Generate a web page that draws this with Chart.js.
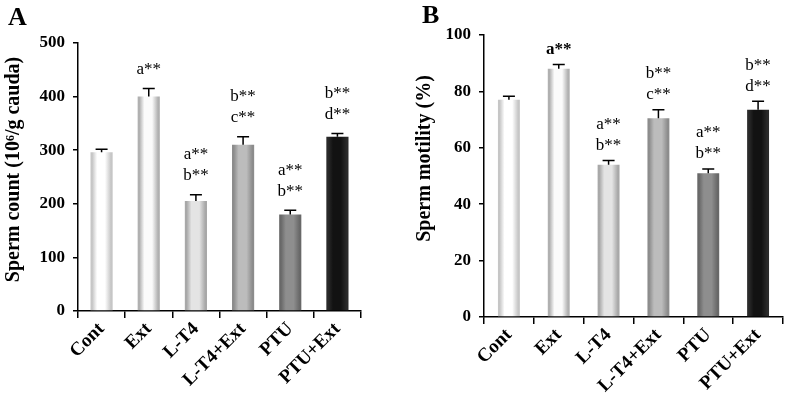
<!DOCTYPE html>
<html>
<head>
<meta charset="utf-8">
<script src="https://cdn.jsdelivr.net/npm/chart.js@4.4.1/dist/chart.umd.min.js"></script>
<style>
  body { margin: 0; background: #fff; }
  #wrap { position: relative; width: 786px; height: 405px; }
  .panel { position: absolute; top: 0; width: 393px; height: 405px; }
  .tag { position: absolute; font: bold 26px "Liberation Serif", serif; color: #000; }
</style>
</head>
<body>
<div id="wrap">
  <div class="panel" style="left:0"><canvas id="chartA"></canvas></div>
  <div class="panel" style="left:393px"><canvas id="chartB"></canvas></div>
  <div class="tag" style="left:8px;top:2px">A</div>
  <div class="tag" style="left:422px;top:0px">B</div>
</div>
<script>
const categories = ["Cont", "Ext", "L-T4", "L-T4+Ext", "PTU", "PTU+Ext"];

const countMeans = [296, 400, 205, 310, 180, 325];
const countErrors = [6, 15, 12, 15, 8, 6];
const countLetters = [[], ["a**"], ["a**", "b**"], ["b**", "c**"], ["a**", "b**"], ["b**", "d**"]];

const motilityMeans = [77, 88, 54, 70.5, 51, 73.5];
const motilityErrors = [1.3, 1.5, 1.5, 3, 1.5, 3];
const motilityLetters = [[], ["a**"], ["a**", "b**"], ["b**", "c**"], ["a**", "b**"], ["b**", "d**"]];

// bar shading: edge colour and middle colour of each cylinder
const barEdge = ["#c6c6c6", "#b0b0b0", "#a8a8a8", "#8c8c8c", "#686868", "#2a2a2a"];
const barMid = ["#ffffff", "#fbfbfb", "#e4e4e4", "#bcbcbc", "#8e8e8e", "#121212"];

const serif = "'Liberation Serif', 'Times New Roman', serif";

const marks = {
  id: "marks",
  afterDatasetsDraw(chart, args, opts) {
    const c = chart.ctx;
    const meta = chart.getDatasetMeta(0);
    const y = chart.scales.y;
    const data = chart.data.datasets[0].data;
    c.save();
    meta.data.forEach((bar, i) => {
      const top = y.getPixelForValue(data[i] + opts.errors[i]);
      c.strokeStyle = "#000";
      c.lineWidth = 1.5;
      c.beginPath();
      c.moveTo(bar.x, bar.y);
      c.lineTo(bar.x, top);
      c.moveTo(bar.x - 6, top);
      c.lineTo(bar.x + 6, top);
      c.stroke();
      const lines = opts.letters[i];
      c.fillStyle = "#000";
      c.textAlign = "center";
      c.textBaseline = "middle";
      lines.forEach((t, k) => {
        const bold = opts.bold && opts.bold[i];
        c.font = (bold ? "bold " : "") + "17px " + serif;
        const yy = top - opts.gap - (lines.length - 1 - k) * 21;
        c.fillText(t, bar.x, yy);
      });
    });
    c.restore();
  }
};

function makeChart(id, values, cfg) {
  return new Chart(document.getElementById(id), {
    type: "bar",
    data: {
      labels: categories,
      datasets: [{
        data: values,
        borderWidth: 0,
        categoryPercentage: 1,
        barPercentage: cfg.barPct,
        backgroundColor(ctx) {
          const chart = ctx.chart;
          const i = ctx.dataIndex;
          if (!chart.chartArea || !chart.scales.x) return barMid[i];
          const xs = chart.scales.x;
          const cx = xs.getPixelForValue(i);
          const half = (xs.width / categories.length) * cfg.barPct / 2;
          const g = chart.ctx.createLinearGradient(cx - half, 0, cx + half, 0);
          g.addColorStop(0, barEdge[i]);
          g.addColorStop(0.08, barEdge[i]);
          g.addColorStop(0.3, barMid[i]);
          g.addColorStop(0.65, barMid[i]);
          g.addColorStop(0.92, barEdge[i]);
          g.addColorStop(1, barEdge[i]);
          return g;
        }
      }]
    },
    options: {
      responsive: true,
      maintainAspectRatio: false,
      animation: false,
      layout: { padding: cfg.padding },
      plugins: {
        legend: { display: false },
        tooltip: { enabled: false },
        marks: { errors: cfg.errors, letters: cfg.letters, bold: cfg.bold, gap: cfg.gap }
      },
      scales: {
        x: {
          afterFit(s) { s.height = cfg.xHeight; },
          grid: { display: true, drawOnChartArea: false, drawTicks: true, tickLength: 7, color: "#000", lineWidth: 1.5 },
          border: { color: "#000", width: 1.5 },
          ticks: {
            color: "#000", minRotation: 45, maxRotation: 45, padding: 0,
            font: { family: serif, size: 19, weight: "bold" }
          }
        },
        y: {
          min: 0, max: cfg.max,
          afterFit(s) { s.width = cfg.yWidth; },
          grid: { display: true, drawOnChartArea: false, drawTicks: true, tickLength: 5, color: "#000", lineWidth: 1.5 },
          border: { color: "#000", width: 1.5 },
          ticks: {
            color: "#000", stepSize: cfg.step, padding: 8,
            font: { family: serif, size: 17, weight: "bold" }
          },
          title: {
            display: true, text: cfg.title, color: "#000",
            padding: { top: cfg.titlePad, bottom: 0 },
            font: { family: serif, size: 20, weight: "bold" }
          }
        }
      }
    },
    plugins: [marks]
  });
}

// leading no-break spaces nudge the rotated titles upward a little
makeChart("chartA", countMeans, {
  max: 500, step: 100, title: "\u00a0\u00a0\u00a0Sperm count (10\u2076/g cauda)",
  errors: countErrors, letters: countLetters, bold: null, gap: 19,
  barPct: 0.47, yWidth: 78, xHeight: 94, titlePad: 2,
  padding: { top: 43, right: 32, left: 0, bottom: 0 }
});

makeChart("chartB", motilityMeans, {
  max: 100, step: 20, title: "\u00a0\u00a0\u00a0\u00a0\u00a0\u00a0\u00a0Sperm motility (%)",
  errors: motilityErrors, letters: motilityLetters,
  bold: [false, true, false, false, false, false], gap: 15,
  barPct: 0.44, yWidth: 91, xHeight: 88, titlePad: 20,
  padding: { top: 35, right: 3, left: 0, bottom: 0 }
});
</script>
</body>
</html>
